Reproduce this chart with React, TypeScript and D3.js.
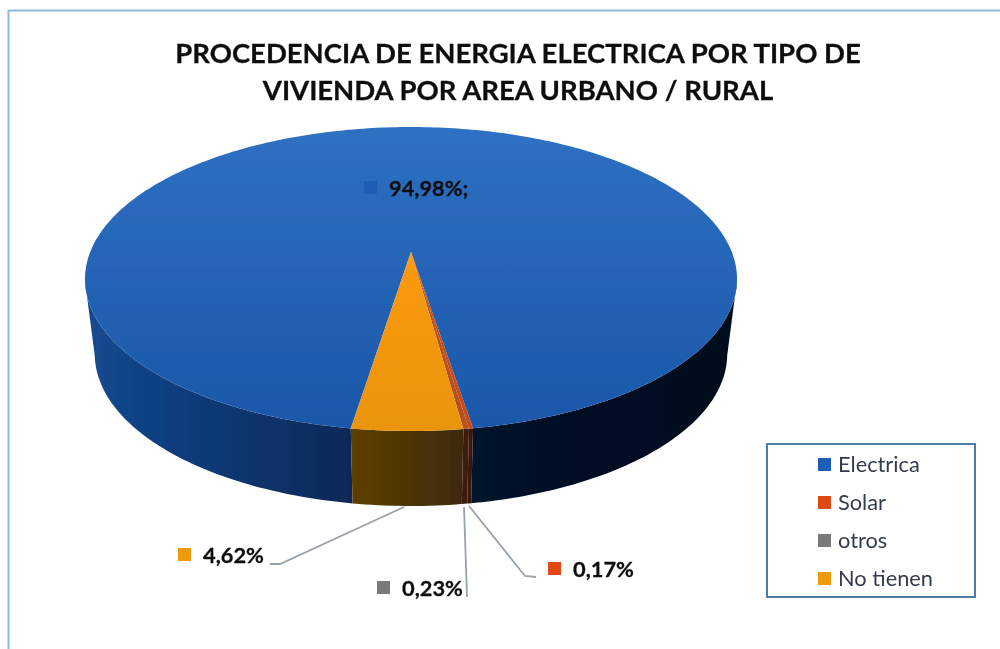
import React from "react";
import * as d3 from "d3";

const titleLines = ["PROCEDENCIA DE ENERGIA ELECTRICA POR TIPO DE", "VIVIENDA POR AREA URBANO / RURAL"];
const categories = ["Electrica", "Solar", "otros", "No tienen"];
const values = [94.98, 0.17, 0.23, 4.62];
const valueLabels = ["94,98%;", "0,17%", "0,23%", "4,62%"];
const colors = ["#1f5fb4", "#df4a12", "#7a7a7a", "#ee9a10"];
const sliceFills = ["url(#top)", "#c44a1c", "#b8501e", "url(#orangeTop)"];
const wallColors = ["url(#wall)", "#3a1810", "#3a1c10", "url(#wallOrange)"];
const labelX = [364, 548, 377, 178];
const labelY = [181, 562, 581, 548];
const leaders: [number, number][][] = [
  [],
  [[469, 506], [525, 576], [536, 577]],
  [[464, 507], [467, 597]],
  [[404, 507], [280, 564], [270, 564]],
];

const CX = 411, CY = 279, RX = 326, RY = 152, DEPTH = 75, E = -0.178, SHRINK = 0.97;
const START = (188.9 * Math.PI) / 180;

function rim(t: number): [number, number] {
  const X = Math.sin(t), Y = -Math.cos(t);
  const d = 1 + E * Y;
  return [CX + (RX * X * Math.sqrt(1 - E * E)) / d, CY + (RY * (Y + E)) / d];
}

const arcs = d3.pie<number>().sort(null).startAngle(START).endAngle(START + 2 * Math.PI)(values);
const line = d3.line();
const apex: [number, number] = [CX, CY + RY * E];

function samples(a: number, b: number) {
  const n = Math.max(2, Math.ceil(((b - a) * 180) / Math.PI));
  return d3.range(n + 1).map((i) => a + ((b - a) * i) / n);
}
function topPath(a: number, b: number) {
  return line([apex, ...samples(a, b).map(rim), apex])! + "Z";
}
function wallPaths(a: number, b: number) {
  const runs: [number, number][][] = [];
  let cur: [number, number][] = [];
  samples(a, b).forEach((t) => {
    const p = rim(t);
    if (p[1] >= CY) cur.push(p);
    else if (cur.length) { runs.push(cur); cur = []; }
  });
  if (cur.length) runs.push(cur);
  return runs.map((r) => line([...r, ...[...r].reverse().map(([x, y]) => [CX + (x - CX) * SHRINK, y + DEPTH] as [number, number])])! + "Z");
}

const FONT = "Lato, 'Open Sans', sans-serif";

export default function App() {
  return (
    <svg width={1000} height={649} style={{ position: "absolute", left: 0, top: 0, background: "#fff" }}>
      <defs>
        <linearGradient id="top" x1="0" y1="0" x2="0" y2="1">
          <stop offset="0" stopColor="#2f70c2" />
          <stop offset="1" stopColor="#1a57a9" />
        </linearGradient>
        <linearGradient id="orangeTop" x1="0" y1="0" x2="0" y2="1">
          <stop offset="0" stopColor="#fb9a0c" />
          <stop offset="1" stopColor="#ea9408" />
        </linearGradient>
        <linearGradient id="wall" gradientUnits="userSpaceOnUse" x1={85} y1={0} x2={737} y2={0}>
          <stop offset="0" stopColor="#134a90" />
          <stop offset="0.15" stopColor="#0e3c7c" />
          <stop offset="0.4" stopColor="#0a2958" />
          <stop offset="0.58" stopColor="#04122a" />
          <stop offset="1" stopColor="#040f1c" />
        </linearGradient>
        <linearGradient id="wallOrange" x1="0" y1="0" x2="1" y2="0">
          <stop offset="0" stopColor="#5f3f04" />
          <stop offset="1" stopColor="#3d2a08" />
        </linearGradient>
        <filter id="soft"><feGaussianBlur stdDeviation="0.6" /></filter>
      </defs>
      <g filter="url(#soft)">
        <path d="M8.5 649V10.5H1000" fill="none" stroke="#8fb8dc" strokeWidth={2} />
        {titleLines.map((t, i) => (
          <text key={t} x={518} y={63 + i * 37} textAnchor="middle" fontFamily={FONT} fontWeight={700} fontSize={27.5} fill="#111" stroke="#111" strokeWidth={0.3}>{t}</text>
        ))}
        {arcs.map((a, i) => wallPaths(a.startAngle, a.endAngle).map((d, j) => (
          <path key={`${i}-${j}`} d={d} fill={wallColors[i]} />
        )))}
        {arcs.map((a, i) => (
          <path key={categories[i]} d={topPath(a.startAngle, a.endAngle)} fill={sliceFills[i]} />
        ))}
        {leaders.map((p, i) => p.length > 0 && (
          <path key={i} d={line(p)!} fill="none" stroke="#98a2ac" strokeWidth={1.8} />
        ))}
        {valueLabels.map((t, i) => (
          <g key={t}>
            <rect x={labelX[i]} y={labelY[i]} width={13} height={13} fill={colors[i]} />
            <text x={labelX[i] + 25} y={labelY[i] + 15} fontFamily={FONT} fontWeight={700} fontSize={21.8} fill="#111" stroke="#111" strokeWidth={0.3}>{t}</text>
          </g>
        ))}
        <rect x={767} y={444} width={208} height={153} fill="#fff" stroke="#4f7ca8" strokeWidth={2} />
        {categories.map((c, i) => (
          <g key={c}>
            <rect x={818} y={458 + i * 38} width={13} height={13} fill={colors[i]} />
            <text x={838} y={472 + i * 38} fontFamily={FONT} fontSize={21.8} fill="#333c4d">{c}</text>
          </g>
        ))}
      </g>
    </svg>
  );
}
